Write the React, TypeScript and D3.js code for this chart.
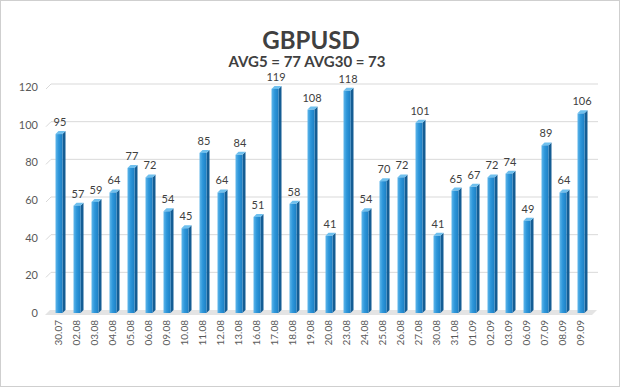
import React, { useEffect, useRef } from 'react';
import * as d3 from 'd3';

// chart data
const dates = ['30.07', '02.08', '03.08', '04.08', '05.08', '06.08', '09.08', '10.08', '11.08', '12.08',
  '13.08', '16.08', '17.08', '18.08', '19.08', '20.08', '23.08', '24.08', '25.08', '26.08',
  '27.08', '30.08', '31.08', '01.09', '02.09', '03.09', '06.09', '07.09', '08.09', '09.09'];
const values = [95, 57, 59, 64, 77, 72, 54, 45, 85, 64, 84, 51, 119, 58, 108, 41, 118, 54, 70, 72,
  101, 41, 65, 67, 72, 74, 49, 89, 64, 106];
const yTicks = [0, 20, 40, 60, 80, 100, 120];
const title = 'GBPUSD';
const subtitle = 'AVG5 = 77 AVG30 = 73';

const W = 620;
const H = 387;

export default function App() {
  const ref = useRef<SVGSVGElement>(null);

  useEffect(() => {
    const svg = d3.select(ref.current);
    svg.selectAll('*').remove();

    const font = 'Lato, "Open Sans", sans-serif';

    const x = d3.scalePoint<string>().domain(dates).range([58, 580]);
    const y = d3.scaleLinear().domain([0, 120]).range([313, 87]);

    const defs = svg.append('defs');
    const grad = defs.append('linearGradient').attr('id', 'barFront')
      .attr('x1', '0%').attr('x2', '100%').attr('y1', '0%').attr('y2', '0%');
    grad.append('stop').attr('offset', '0%').attr('stop-color', '#5fb6ea');
    grad.append('stop').attr('offset', '45%').attr('stop-color', '#2d96da');
    grad.append('stop').attr('offset', '100%').attr('stop-color', '#1c7fc4');

    // frame
    svg.append('rect').attr('x', 0.5).attr('y', 0.5).attr('width', W - 1).attr('height', H - 1)
      .attr('fill', '#fff').attr('stroke', '#cfcfcf');

    // gridlines
    const depth = 5;
    yTicks.forEach(t => {
      if (t === 0) return;
      const yy = y(t);
      svg.append('path')
        .attr('d', `M46,${yy + 2} L${46 + depth},${yy - 3} L598,${yy - 3}`)
        .attr('fill', 'none').attr('stroke', '#d9d9d9').attr('stroke-width', 1);
    });

    // floor
    const y0 = y(0);
    svg.append('path')
      .attr('d', `M45,${y0 + 2} L${45 + depth},${y0 - 3} L597,${y0 - 3} L592,${y0 + 2} Z`)
      .attr('fill', '#e4e4e4');

    // y labels
    svg.append('g').selectAll('text').data(yTicks).enter().append('text')
      .attr('x', 38).attr('y', d => y(d) + 4)
      .attr('text-anchor', 'end')
      .attr('font-family', font).attr('font-size', 11).attr('fill', '#595959')
      .text(d => d);

    // bars
    const fw = 7;
    const dd = 3;
    const bars = svg.append('g').selectAll('g').data(values).enter().append('g');
    bars.append('path')
      .attr('d', (d, i) => {
        const cx = x(dates[i])!;
        const l = cx - fw / 2 + 1, r = l + fw;
        return `M${r},${y(d)} L${r + dd},${y(d) - dd} L${r + dd},${y0 - dd} L${r},${y0} Z`;
      })
      .attr('fill', '#145d94');
    bars.append('path')
      .attr('d', (d, i) => {
        const cx = x(dates[i])!;
        const l = cx - fw / 2 + 1, r = l + fw;
        return `M${l},${y(d)} L${l + dd},${y(d) - dd} L${r + dd},${y(d) - dd} L${r},${y(d)} Z`;
      })
      .attr('fill', '#6fc0ee');
    bars.append('rect')
      .attr('x', (d, i) => x(dates[i])! - fw / 2 + 1)
      .attr('y', d => y(d))
      .attr('width', fw)
      .attr('height', d => y0 - y(d))
      .attr('fill', 'url(#barFront)');

    // value labels
    svg.append('g').selectAll('text').data(values).enter().append('text')
      .attr('x', (d, i) => x(dates[i])! + 2)
      .attr('y', d => y(d) - 8)
      .attr('text-anchor', 'middle')
      .attr('font-family', font).attr('font-size', 11).attr('fill', '#404040')
      .text(d => d);

    // x labels
    svg.append('g').selectAll('text').data(dates).enter().append('text')
      .attr('transform', d => `translate(${x(d)! + 4},320) rotate(-90)`)
      .attr('text-anchor', 'end')
      .attr('font-family', font).attr('font-size', 10).attr('fill', '#595959')
      .text(d => d);

    // titles
    svg.append('text').attr('x', 311).attr('y', 49)
      .attr('text-anchor', 'middle')
      .attr('font-family', font).attr('font-weight', 'bold').attr('font-size', 24).attr('fill', '#404040')
      .text(title);
    svg.append('text').attr('x', 307).attr('y', 67)
      .attr('text-anchor', 'middle')
      .attr('font-family', font).attr('font-weight', 'bold').attr('font-size', 15).attr('fill', '#404040')
      .text(subtitle);
  }, []);

  return (
    <div>
      <style>{`body { margin: 0; }`}</style>
      <svg ref={ref} width={W} height={H} style={{ display: 'block' }}></svg>
    </div>
  );
}
